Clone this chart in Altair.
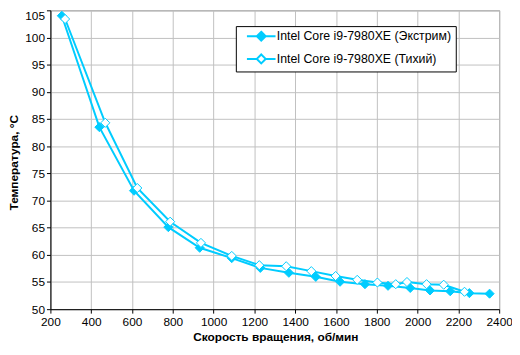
import altair as alt
import pandas as pd

S1 = "Intel Core i9-7980XE (Экстрим)"
S2 = "Intel Core i9-7980XE (Тихий)"

rpm_extreme = [256, 440, 610, 778, 932, 1089, 1229, 1369, 1501, 1620, 1742, 1855, 1964, 2061, 2160, 2254, 2353]
temp_extreme = [104.0, 83.5, 71.8, 65.1, 61.3, 59.4, 57.6, 56.7, 55.95, 55.05, 54.6, 54.3, 53.9, 53.45, 53.3, 52.95, 52.85]

rpm_quiet = [272, 469, 626, 787, 938, 1089, 1224, 1356, 1479, 1598, 1704, 1803, 1893, 1948, 2044, 2128, 2230]
temp_quiet = [103.4, 84.3, 72.3, 66.1, 62.2, 59.8, 58.1, 57.9, 57.0, 56.1, 55.4, 54.9, 54.6, 55.0, 54.6, 54.5, 53.2]

x_ticks = list(range(200, 2401, 200))
y_ticks = list(range(50, 106, 5))

CYAN = "#00CCFF"
FONT = "Liberation Sans"

df = pd.concat([
    pd.DataFrame({"rpm": rpm_extreme, "temp": temp_extreme, "series": S1}),
    pd.DataFrame({"rpm": rpm_quiet, "temp": temp_quiet, "series": S2}),
], ignore_index=True)

# legend glyphs: a line with a diamond on it
path_filled = "M0.2,0H6.0M3.1,-0.9L4.0,0L3.1,0.9L2.2,0Z"
path_open = "M0.2,0H2.2M4.0,0H6.0M3.1,-0.9L4.0,0L3.1,0.9L2.2,0Z"

x_enc = alt.X("rpm:Q",
              scale=alt.Scale(domain=[200, 2400], nice=False),
              axis=alt.Axis(values=x_ticks, title="Скорость вращения, об/мин",
                            format="d", labelOverlap=False, labelFlush=False,
                            titleX=228, titleY=28, titleBaseline="middle",
                            labelPadding=4))
y_enc = alt.Y("temp:Q",
              scale=alt.Scale(domain=[50, 105], nice=False, zero=False),
              axis=alt.Axis(values=y_ticks, title="Температура, °C",
                            format="d", labelOverlap=False, labelFlush=False,
                            labelBaseline={"condition": {"test": "datum.value >= 105", "value": "top"},
                                           "value": "middle"},
                            titleX=-37, titleY=154, titleBaseline="middle",
                            titleAngle=-90, labelPadding=2))

lines = alt.Chart(df).mark_line(color=CYAN, strokeWidth=2).encode(
    x=x_enc, y=y_enc, detail="series:N", order=alt.Order("rpm:Q"))

points = alt.Chart(df).mark_point(shape="diamond", size=85, stroke=CYAN,
                                  strokeWidth=1, filled=True, opacity=1).encode(
    x=x_enc, y=y_enc,
    color=alt.Color("series:N",
                    scale=alt.Scale(domain=[S1, S2], range=[CYAN, "white"]),
                    legend=None),
)

leg_kw = dict(
    title=None, orient="none", legendX=188, legendY=16,
    padding=4, rowPadding=5, fillColor="white", strokeColor="black",
    symbolSize=100, symbolStrokeWidth=2, symbolOpacity=1,
    labelOffset=25, labelFontSize=12.5,
    labelFont=FONT, labelColor="black", labelLimit=400,
)

legend_layer = alt.Chart(df).transform_filter("false").mark_point(
    filled=True, strokeWidth=2, size=100, opacity=1).encode(
    x=x_enc, y=y_enc,
    fill=alt.Fill("series:N",
                  scale=alt.Scale(domain=[S1, S2], range=[CYAN, "white"]),
                  legend=alt.Legend(**leg_kw)),
    stroke=alt.Stroke("series:N",
                      scale=alt.Scale(domain=[S1, S2], range=[CYAN, CYAN]),
                      legend=alt.Legend(**leg_kw)),
    shape=alt.Shape("series:N",
                    scale=alt.Scale(domain=[S1, S2], range=[path_filled, path_open]),
                    legend=alt.Legend(**leg_kw)),
)

chart = alt.layer(legend_layer, lines, points).properties(
    width=455, height=303,
    autosize=alt.AutoSizeParams(type="none"),
    padding={"left": 43, "top": 0, "right": 13, "bottom": 36},
).configure_view(stroke="#808080", strokeWidth=1).configure_axis(
    grid=True, gridColor="#C0C0C0", gridWidth=1,
    domainColor="black", domainWidth=1,
    tickColor="black", tickSize=4,
    labelFont=FONT, labelFontSize=12, labelColor="black",
    titleFont=FONT, titleFontSize=12, titleFontWeight="bold", titleColor="black",
)

chart.save("out.html", embed_options={"renderer": "svg", "actions": False})
